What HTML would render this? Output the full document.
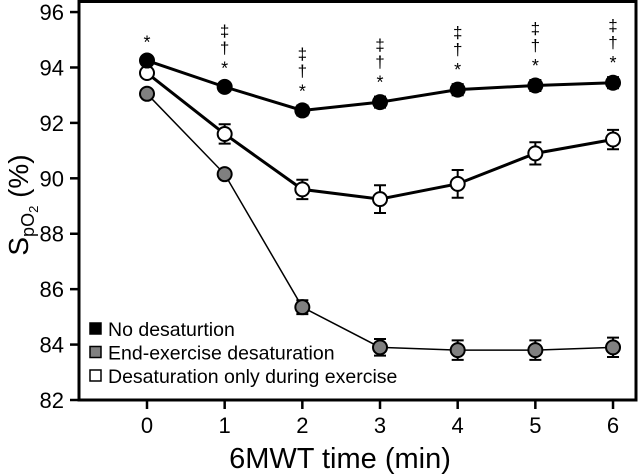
<!DOCTYPE html>
<html><head><meta charset="utf-8"><style>
body{margin:0;background:#fff}
svg{display:block;font-family:"Liberation Sans",Arial,sans-serif}
</style></head><body>
<svg id="chart" width="640" height="474"></svg>
<script>
const times=[0,1,2,3,4,5,6];
const noDesat=[94.25,93.3,92.45,92.75,93.2,93.35,93.45];
const noDesatErr=[0.15,0.15,0.18,0.2,0.2,0.2,0.2];
const endDesat=[93.05,90.15,85.35,83.9,83.8,83.8,83.9];
const endDesatErr=[0.1,0.15,0.25,0.3,0.35,0.35,0.35];
const duringDesat=[93.8,91.6,89.6,89.25,89.8,90.9,91.4];
const duringDesatErr=[0.1,0.35,0.35,0.5,0.5,0.4,0.35];
const yTicks=[82,84,86,88,90,92,94,96];
const xTicks=[0,1,2,3,4,5,6];
const annotations=["*","‡†*","‡†*","‡†*","‡†*","‡†*","‡†*"];

const NS="http://www.w3.org/2000/svg";
const svg=document.getElementById('chart');
const X=v=>147+v*77.67;
const Y=v=>400-(v-82)*27.71;
function el(t,a,p){const e=document.createElementNS(NS,t);for(const k in a)e.setAttribute(k,a[k]);(p||svg).appendChild(e);return e;}

const frame=el('rect',{x:79,y:1.5,width:557,height:398.5,fill:'none',stroke:'#000','stroke-width':3});



yTicks.forEach(v=>{
  const l=el('line',{x1:70,x2:79,y1:Y(v),y2:Y(v),stroke:'#000','stroke-width':2.5});
  
  
  const t=el('text',{x:64,y:Y(v)+8,'text-anchor':'end','font-size':22});
  t.textContent=v;
  
  
});
xTicks.forEach(v=>{
  const l=el('line',{x1:X(v),x2:X(v),y1:400,y2:409,stroke:'#000','stroke-width':2.5});
  
  
  const t=el('text',{x:X(v),y:433,'text-anchor':'middle','font-size':22});
  t.textContent=v;
  
  
});

const xt=el('text',{x:340,y:468,'text-anchor':'middle','font-size':29});
xt.textContent='6MWT time (min)';


const yt=el('text',{transform:'translate(28,205) rotate(-90)','text-anchor':'middle','font-size':28});
yt.innerHTML='S<tspan font-size="18" dy="6">pO</tspan><tspan font-size="13" dy="4">2</tspan><tspan dy="-10"> (%)</tspan>';



function series(vals,errs,fill,width,name){
  const g=el('g',{});
  
  
  el('polyline',{points:vals.map((v,i)=>X(times[i])+','+Y(v)).join(' '),fill:'none',stroke:'#000','stroke-width':width},g);
  vals.forEach((v,i)=>{
    const x=X(times[i]),y1=Y(v+errs[i]),y2=Y(v-errs[i]);
    el('path',{d:`M${x},${y1}V${y2}M${x-6},${y1}H${x+6}M${x-6},${y2}H${x+6}`,stroke:'#000','stroke-width':2,fill:'none'},g);
    const c=el('circle',{cx:x,cy:Y(v),r:7,fill:fill,stroke:'#000','stroke-width':2},g);
    
    
  });
}
series(endDesat,endDesatErr,'#808080',1.5,'series-end-exercise-desaturation');
series(duringDesat,duringDesatErr,'#fff',3,'series-desaturation-during-exercise');
series(noDesat,noDesatErr,'#000',3,'series-no-desaturation');

annotations.forEach((a,i)=>{
  const base=Y(noDesat[i]+noDesatErr[i])-12;
  const chars=a.split('').reverse();
  chars.forEach((c,j)=>{
    const t=el('text',{x:X(times[i]),y:base-j*17+(c==='*'?4:0),'text-anchor':'middle','font-size':c==='*'?18:17});
    t.textContent=c;
    
    
  });
});

const legend=[['#000','No desaturtion'],['#808080','End-exercise desaturation'],['#fff','Desaturation only during exercise']];
legend.forEach((l,i)=>{
  const y=329+i*23.5;
  const g=el('g',{});
  
  
  el('rect',{x:90,y:y-6,width:11,height:11,fill:l[0],stroke:'#000','stroke-width':1.5},g);
  const t=el('text',{x:108,y:y+7,'font-size':19.5},g);
  t.textContent=l[1];
});
</script>
</body></html>
